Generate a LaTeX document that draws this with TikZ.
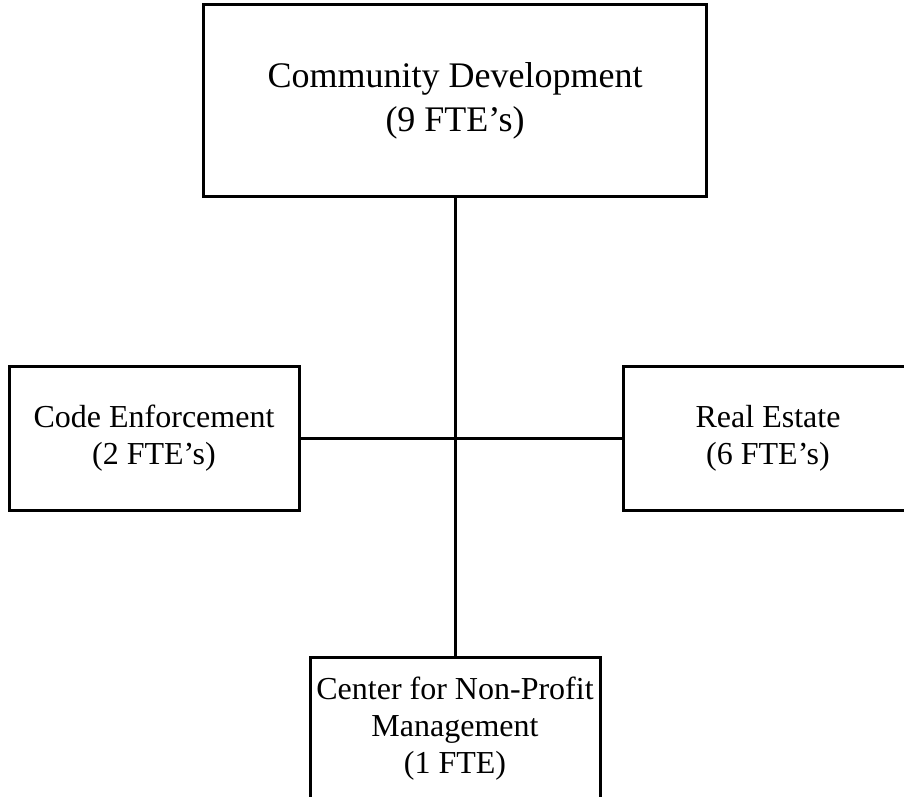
\documentclass[tikz,border=0pt]{standalone}
\usepackage{fontspec}
\setmainfont{Liberation Serif}
\usetikzlibrary{positioning}

\tikzset{
  dept/.style={draw, line width=1.5pt, rectangle, align=center,
    minimum width=251.5pt, minimum height=95.5pt,
    font=\fontsize{18}{22}\selectfont},
  unit/.style={draw, line width=1.5pt, rectangle, align=center,
    minimum width=145pt, minimum height=72pt, inner sep=1pt,
    font=\fontsize{16}{18.5}\selectfont}
}

\begin{document}
\begin{tikzpicture}[x=0.5pt,y=-0.5pt]

\path[use as bounding box, clip] (0,0) rectangle (904,797);

\node[dept] (cd) at (455,100.5) {Community Development\\(9 FTE's)};

\node[unit] (ce) at (154,438) {Code Enforcement\\(2 FTE's)};

\node[unit] (re) at (768,438) {Real Estate\\(6 FTE's)};

\node[unit,below= 229pt of cd] (cnp) {Center for Non-Profit\\Management\\(1 FTE)};

\draw[line width=1.5pt]

  % From department down to the center

  (cd) -- (cnp)

  % From code enforcement across to real estate

  (ce) -- (re)

;

\end{tikzpicture}
\end{document}
